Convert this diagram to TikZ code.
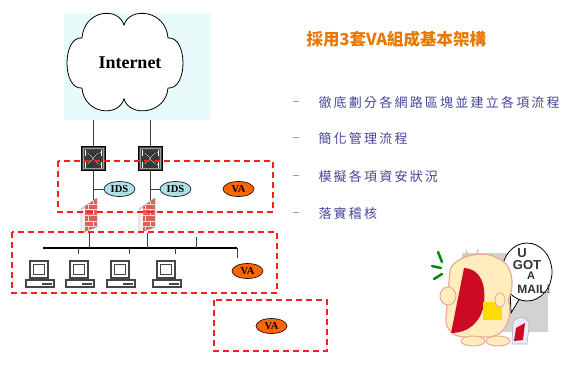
\documentclass[tikz,border=0pt]{standalone}
\usepackage{fontspec}
\setmainfont{Liberation Serif}
\setsansfont{Liberation Sans}
\newfontfamily\cjktitle{Noto Sans CJK TC}
\newfontfamily\cjkbody[LetterSpace=17]{Noto Sans CJK TC}
\usetikzlibrary{shapes.geometric,patterns}

\definecolor{zonered}{RGB}{255,30,30}
\definecolor{vaorange}{RGB}{255,102,0}
\definecolor{idsblue}{RGB}{176,224,230}
\definecolor{skybg}{RGB}{232,250,250}
\definecolor{titleorange}{RGB}{232,120,0}
\definecolor{bulletblue}{RGB}{70,70,150}
\definecolor{brickbase}{RGB}{222,95,85}
\definecolor{wallside}{RGB}{252,236,236}
\definecolor{pale}{RGB}{255,237,190}
\definecolor{pinkline}{RGB}{235,170,150}
\definecolor{mouthred}{RGB}{205,10,35}

\begin{document}
\begin{tikzpicture}[x=1pt,y=-1pt,
  zone/.style={draw=zonered, line width=1.5pt, dash pattern=on 6pt off 4pt},
  link/.style={draw=black!75, line width=0.8pt},
  bus/.style={draw=black, line width=1.6pt},
  ids/.style={ellipse, draw=black, line width=0.6pt, fill=idsblue,
    minimum width=31pt, minimum height=15pt, inner sep=0pt,
    font=\bfseries\fontsize{10.5}{10.5}\selectfont},
  va/.style={ids, fill=vaorange},
  bullettext/.style={anchor=west, text=bulletblue,
    font=\cjkbody\fontsize{13}{15}\selectfont},
  dashmark/.style={text=bulletblue, font=\fontsize{11}{11}\selectfont},
  switchicon/.pic={
    \node[draw=black, line width=0.8pt, fill=gray!55!black,
      minimum size=24pt, inner sep=0pt] (-box) at (0,0) {};
    \draw[gray!80, line width=0.6pt] (-10,-10) rectangle (10,10);
    \fill[gray!45!black] (-9,-9) rectangle (9,9);
    \draw[black, line width=1.1pt] (-8,-6) .. controls (-1,-6) and (1,6) .. (8,6);
    \draw[black, line width=1.1pt] (-8,6) .. controls (-1,6) and (1,-6) .. (8,-6);
    \draw[white, line width=0.4pt] (-8,-6) .. controls (-1,-6) and (1,6) .. (8,6);
    \draw[white, line width=0.4pt] (-8,6) .. controls (-1,6) and (1,-6) .. (8,-6);
    \draw[white, line width=0.5pt] (-8,-9) -- (-8,-3) (8,-9) -- (8,-3)
      (-8,9) -- (-8,3) (8,9) -- (8,3);
  },
  firewall/.pic={
    \node[inner sep=0pt, minimum width=16pt, minimum height=35pt] (-body) at (0,0) {};
    \draw[gray!70, line width=0.4pt, fill=wallside]
      (-8,-6) -- (8,-17) -- (8,12) -- (-8,18) -- cycle;
    \fill[brickbase] (-4,-8.75) -- (8,-17) -- (8,12) -- (-4,16.5) -- cycle;
    \fill[pattern=bricks, pattern color=white!85!red]
      (-4,-8.75) -- (8,-17) -- (8,12) -- (-4,16.5) -- cycle;
    \draw[gray!60, line width=0.4pt]
      (-8,-6) -- (8,-17) -- (8,12) -- (-8,18) -- cycle;
  },
  pcicon/.pic={
    \node[draw=gray!55!black, line width=1.3pt, fill=white,
      minimum width=18pt, minimum height=17pt, inner sep=0pt] (-mon) at (0,0) {};
    \draw[gray!55!black, line width=1pt] (-6,-5) rectangle (5,5);
    \draw[gray!55!black, line width=1.3pt, fill=white] (-13,10.5) rectangle (15,17.5);
    \fill[gray!55!black] (3,13) rectangle (13,15.5);
  }
]
\useasboundingbox (0,0) rectangle (575,372);

% sky panel and cloud
\node[fill=skybg, minimum width=146pt, minimum height=107pt, inner sep=0pt] (sky) at (137,66.5) {};
\draw[black, line width=0.8pt, fill=white]
  (82,38) .. controls (84,10) and (118,6) .. (124,25)
  .. controls (130,6) and (166,10) .. (168,38)
  .. controls (188,36) and (188,90) .. (168,88)
  .. controls (166,114) and (130,118) .. (124,99)
  .. controls (118,118) and (84,114) .. (82,88)
  .. controls (62,90) and (62,36) .. (82,38) -- cycle;
\node[font=\bfseries\fontsize{18}{18}\selectfont] (inet) at (130,63) {Internet};

% switches
\pic (sw1) at (93,158.5) {switchicon};
\pic (sw2) at (150,158.5) {switchicon};
\draw[link] (sw1-box.north) -- (sw1-box.north |- sky.south);
\draw[link] (sw2-box.north) -- (sw2-box.north |- sky.south);

% IDS and VA in the perimeter zone
\node[ids] (ids1) at (119.5,189) {IDS};
\node[ids] (ids2) at (175.5,189) {IDS};
\node[va] (va1) at (238.5,189) {VA};

% switch to firewall links with IDS taps
\coordinate (fwtop1) at (93,200);
\coordinate (fwtop2) at (150,202);
\draw[link] (sw1-box.south) -- (sw1-box.south |- fwtop1);
\draw[link] (sw2-box.south) -- (sw2-box.south |- fwtop2);
\draw[link] (ids1.west) -- (ids1.west -| sw1-box.south);
\draw[link] (ids2.west) -- (ids2.west -| sw2-box.south);

% firewalls
\pic (fw1) at (89,215) {firewall};
\pic (fw2) at (147,215) {firewall};

% internal LAN bus
\coordinate (busL) at (43,248);
\coordinate (busR) at (237,248);
\coordinate (busDrop) at (237,258);
\coordinate (tap) at (196,237);
\draw[bus] (busL) -- (busR);
\draw[link] (busR) -- (busDrop);
\draw[link] (fw1-body.south) -- (fw1-body.south |- busL);
\draw[link] (fw2-body.south) -- (fw2-body.south |- busL);
\draw[link] (tap) -- (tap |- busL);
\coordinate (drop1) at (78,254);
\coordinate (drop2) at (129,254);
\coordinate (drop3) at (175,254);
\draw[link] (drop1 |- busL) -- (drop1);
\draw[link] (drop2 |- busL) -- (drop2);
\draw[link] (drop3 |- busL) -- (drop3);

% workstations
\pic (pc1) at (39,269.5) {pcicon};
\pic (pc2) at (79,269.5) {pcicon};
\pic (pc3) at (120,269.5) {pcicon};
\pic (pc4) at (166,269.5) {pcicon};

\node[va] (va2) at (247.5,271) {VA};
\node[va] (va3) at (271.5,326) {VA};

% zones
\draw[zone] (58,161) rectangle (273,212);
\draw[zone] (12,232) rectangle (277,293);
\draw[zone] (214,300) rectangle (327,351);

% title and bullet list
\node[anchor=west, text=titleorange, font=\cjktitle\bfseries\fontsize{16.5}{18}\selectfont] (title) at (303,39) {採用3套VA組成基本架構};

\node[dashmark] (d1) at (296,103) {–};
\node[dashmark] (d2) at (296,139) {–};
\node[dashmark] (d3) at (296,177) {–};
\node[dashmark] (d4) at (296,214) {–};
\node[bullettext] (b1) at (315,103) {徹底劃分各網路區塊並建立各項流程};
\node[bullettext] (b2) at (315,139) {簡化管理流程};
\node[bullettext] (b3) at (315,177) {模擬各項資安狀況};
\node[bullettext] (b4) at (315,214) {落實稽核};

% "U GOT A MAIL!" cartoon
\fill[gray!35] (462,253) rectangle (548,332);
\draw[black, line width=0.8pt, fill=white] (510,288) -- (511,313) -- (520,298);
\draw[black, line width=0.8pt, fill=white] (527,272) ellipse [x radius=25, y radius=29];
\node[font=\sffamily\bfseries\fontsize{13}{13}\selectfont, text=gray!40!black] (mu) at (522,253) {U};
\node[font=\sffamily\bfseries\fontsize{13}{13}\selectfont, text=gray!40!black] (mgot) at (527,265) {GOT};
\node[font=\sffamily\bfseries\fontsize{11}{11}\selectfont, text=gray!40!black] (ma) at (531,276) {A};
\node[font=\sffamily\bfseries\fontsize{12}{12}\selectfont, text=gray!40!black] (mmail) at (534,289) {MAIL!};

\draw[pinkline, line width=1pt] (466,250) -- (468,256) (478,249) -- (477,255);
\draw[pinkline, line width=1.2pt, fill=pale]
  (450,270) .. controls (455,255) and (485,250) .. (497,258)
  .. controls (512,262) and (516,285) .. (508,300)
  .. controls (514,316) and (505,336) .. (490,337)
  -- (465,337) .. controls (452,337) and (445,328) .. (446,318) -- cycle;
\fill[mouthred] (464,268) .. controls (481,269) and (486,285) .. (484,303)
  .. controls (482,320) and (470,333) .. (451,333) -- cycle;
\draw[pinkline, line width=1pt, fill=pale] (448,296) ellipse [x radius=8, y radius=9];
\draw[pinkline, line width=1pt, fill=pale] (473,341) ellipse [x radius=12, y radius=5];
\draw[pinkline, line width=1pt, fill=pale] (498,341) ellipse [x radius=12, y radius=5];
\fill[yellow!80!orange] (483,302) rectangle (502,320);
\draw[pinkline, line width=0.8pt, fill=pale] (500,300) ellipse [x radius=5, y radius=7];
\draw[green!55!black, line width=2.5pt, line cap=round]
  (438,252) -- (442,262) (432,266) -- (441,268) (434,279) -- (442,274);
\draw[gray!60, line width=0.6pt, fill=blue!8]
  (513,322) .. controls (518,315) and (530,316) .. (529,327) -- (527,344) -- (512,344) -- cycle;
\fill[mouthred] (516,328) -- (525,323) -- (523,340) -- (514,341) -- cycle;
\end{tikzpicture}
\end{document}
